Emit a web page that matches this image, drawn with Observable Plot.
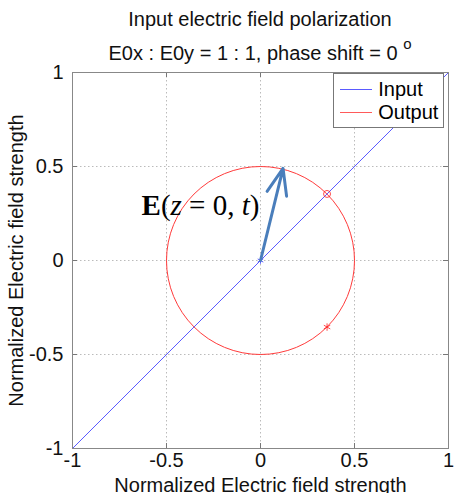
<!DOCTYPE html>
<html><head><meta charset="utf-8">
<script src="https://cdn.jsdelivr.net/npm/d3@7"></script>
<script src="https://cdn.jsdelivr.net/npm/@observablehq/plot@0.6"></script>
<style>
body{margin:0;background:#fff;}
#wrap{position:relative;width:454px;height:493px;overflow:hidden;font-family:"Liberation Sans",Arial,sans-serif;}
.t{position:absolute;left:72px;width:376px;text-align:center;font-size:20px;line-height:23px;color:#111;white-space:nowrap;}
#legend{position:absolute;background:#fff;border:1px solid #777;font-size:20px;box-sizing:border-box;}
.row{position:relative;height:23px;line-height:23px;}
.sw{position:absolute;left:6px;top:11px;width:32px;height:0;border-top:1px solid;}
.lab{position:absolute;left:44px;}
#eq{position:absolute;font-family:"Liberation Serif","Times New Roman",serif;font-size:29px;white-space:nowrap;color:#000;}
</style></head>
<body><div id="wrap"></div>
<script>
const titleLines = ["Input electric field polarization", "E0x : E0y = 1 : 1, phase shift = 0"];
const axisLabel = "Normalized Electric field strength";
const ticks = [-1, -0.5, 0, 0.5, 1];
const gridTicks = [-0.5, 0, 0.5];
const inputX = [-1, 1];
const inputY = [-1, 1];
const outputRadius = [0.5];
const outputCenter = [0, 0];
const outputMarkX = [0.354, 0.354];
const outputMarkY = [0.354, -0.354];
const outputMarkSym = ["circle", "asterisk"];
const arrowFrom = [0, 0];
const arrowTo = [0.12, 0.49];
const eqPos = [-0.63, 0.28];
const legendPos = [0.39, 0.995];
const legendNames = ["Input", "Output"];
const legendColors = ["#5a5aff", "#ff5a5a"];

const W = 454, H = 493, mL = 72, mR = 6, mT = 72, mB = 45;
const innerW = W - mL - mR, innerH = H - mT - mB;

const inputData = inputX.map((x, i) => ({x, y: inputY[i]}));
const markData = outputMarkX.map((x, i) => ({x, y: outputMarkY[i], s: outputMarkSym[i]}));

const plot = Plot.plot({
  width: W, height: H,
  marginLeft: mL, marginRight: mR, marginTop: mT, marginBottom: mB,
  style: {fontFamily: "Liberation Sans, Arial, sans-serif", fontSize: "20px", color: "#111", background: "#fff", overflow: "visible"},
  x: {domain: [-1, 1]},
  y: {domain: [-1, 1]},
  r: {type: "linear", domain: [0, 1], range: [0, innerW / 2]},
  marks: [
    Plot.gridX(gridTicks, {stroke: "#bbb", strokeOpacity: 1, strokeDasharray: "1.5,2.5"}),
    Plot.gridY(gridTicks, {stroke: "#bbb", strokeOpacity: 1, strokeDasharray: "1.5,2.5"}),
    Plot.tickX(ticks, {x: d => d, stroke: "#777", insetBottom: innerH - 5}),
    Plot.tickX(ticks, {x: d => d, stroke: "#777", insetTop: innerH - 5}),
    Plot.tickY(ticks, {y: d => d, stroke: "#777", insetRight: innerW - 5}),
    Plot.tickY(ticks, {y: d => d, stroke: "#777", insetLeft: innerW - 5}),
    Plot.axisX(ticks, {tickSize: 0, tickPadding: 4, tickFormat: d => String(d), label: axisLabel, labelAnchor: "center", labelArrow: "none", labelOffset: 43, fill: "#111"}),
    Plot.axisY(ticks, {tickSize: 0, tickPadding: 9, tickFormat: d => String(d), label: axisLabel, labelAnchor: "center", labelArrow: "none", labelOffset: 64, fill: "#111"}),
    Plot.dot(outputRadius, {x: () => outputCenter[0], y: () => outputCenter[1], r: d => d, stroke: "#ff3b3b", strokeWidth: 1, fill: "none"}),
    Plot.line(inputData, {x: "x", y: "y", stroke: "#5a5aff", strokeWidth: 1}),
    Plot.dot(markData, {x: "x", y: "y", symbol: "s", r: 3.5, stroke: "#ff2020", strokeWidth: 0.8, fill: "none"}),
    Plot.dot([{x: 0, y: 0}], {x: "x", y: "y", symbol: "asterisk", r: 3, stroke: "#3030ff", strokeWidth: 0.8}),
    Plot.arrow([{x1: arrowFrom[0], y1: arrowFrom[1], x2: arrowTo[0], y2: arrowTo[1]}], {x1: "x1", y1: "y1", x2: "x2", y2: "y2", stroke: "#4a7ebb", strokeWidth: 3, headLength: 14, headAngle: 42}),
    Plot.frame({stroke: "#888", strokeWidth: 1})
  ]
});
const wrap = document.getElementById("wrap");
wrap.appendChild(plot);

const t1 = document.createElement("div"); t1.className = "t"; t1.style.top = "8px"; t1.textContent = titleLines[0]; wrap.appendChild(t1);
const t2 = document.createElement("div"); t2.className = "t"; t2.style.top = "35px";
t2.innerHTML = titleLines[1] + ' <sup style="font-size:15px;position:relative;top:-3px">o</sup>'; wrap.appendChild(t2);

const xs = plot.scale("x"), ys = plot.scale("y");
const eq = document.createElement("div"); eq.id = "eq";
eq.innerHTML = '<b>E</b>(<i>z</i> = 0, <i>t</i>)';
eq.style.left = xs.apply(eqPos[0]) + "px";
eq.style.top = (ys.apply(eqPos[1]) - 18) + "px";
wrap.appendChild(eq);

const lg = document.createElement("div"); lg.id = "legend";
lg.style.left = xs.apply(legendPos[0]) + "px";
lg.style.top = ys.apply(legendPos[1]) + "px";
lg.style.width = "111px";
lg.style.height = "55px";
lg.style.paddingTop = "4px";
legendNames.forEach((n, i) => {
  const r = document.createElement("div"); r.className = "row";
  r.innerHTML = `<span class="sw" style="border-color:${legendColors[i]}"></span><span class="lab">${n}</span>`;
  lg.appendChild(r);
});
wrap.appendChild(lg);
</script></body></html>
